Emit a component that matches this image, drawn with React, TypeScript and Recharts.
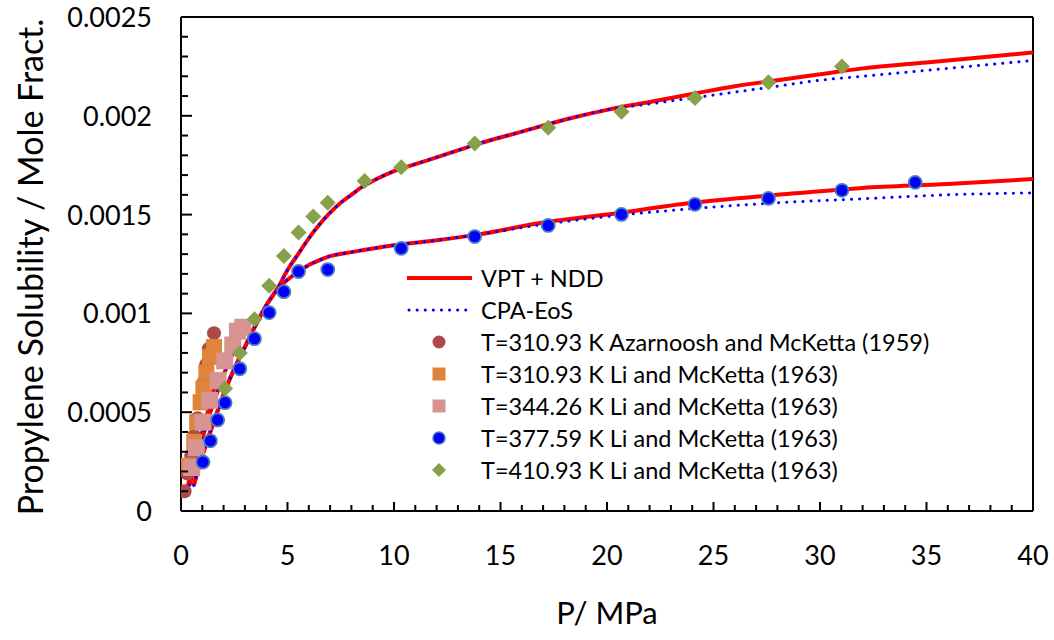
import React from 'react'
import { ComposedChart, Line, Scatter, XAxis, YAxis, Legend, ReferenceLine, Label } from 'recharts'

const FONT = 'Lato, "Open Sans", sans-serif'

// experimental data, P in MPa, solubility in mole fraction
const AZ311_P = [0.17, 0.3, 0.48, 0.62, 0.78, 0.92, 1.06, 1.18, 1.3, 1.55]
const AZ311_S = [0.0001, 0.00019, 0.00028, 0.00038, 0.00047, 0.00056, 0.00065, 0.00074, 0.00082, 0.0009]
const LI311_P = [0.33, 0.62, 0.76, 0.92, 1.05, 1.19, 1.36, 1.55]
const LI311_S = [0.00023, 0.00035, 0.00045, 0.00055, 0.00062, 0.0007, 0.00078, 0.00083]
const LI344_P = [0.5, 0.72, 1.03, 1.35, 1.74, 2.05, 2.43, 2.65, 2.9]
const LI344_S = [0.00022, 0.00032, 0.00045, 0.00056, 0.00066, 0.00076, 0.00084, 0.00091, 0.00093]
const LI378_P = [1.03, 1.38, 1.72, 2.07, 2.76, 3.45, 4.14, 4.83, 5.52, 6.89, 10.34, 13.79, 17.24, 20.68, 24.13, 27.58, 31.03, 34.47]
const LI378_S = [0.000248, 0.000355, 0.000461, 0.000548, 0.00072, 0.000872, 0.001004, 0.00111, 0.001212, 0.001222, 0.001329, 0.001389, 0.001445, 0.001501, 0.001552, 0.001582, 0.001623, 0.001663]
const LI411_P = [2.07, 2.76, 3.45, 4.14, 4.83, 5.52, 6.21, 6.89, 8.62, 10.34, 13.79, 17.24, 20.68, 24.13, 27.58, 31.03]
const LI411_S = [0.00062, 0.0008, 0.00097, 0.00114, 0.00129, 0.00141, 0.00149, 0.00156, 0.00167, 0.00174, 0.00186, 0.00194, 0.00202, 0.00209, 0.00217, 0.00225]

// model curves
const VPT411_P = [0.6, 1, 1.5, 2, 2.5, 3, 3.5, 4, 4.5, 5, 5.5, 6, 6.5, 7, 7.5, 8, 8.5, 9, 10, 11, 12, 13, 14, 16, 18, 20, 22, 24, 26, 28, 30, 32, 35, 38, 40]
const VPT411_S = [0.00013, 0.00028, 0.00044, 0.00059, 0.00072, 0.00083, 0.00094, 0.00104, 0.00112, 0.00122, 0.0013, 0.00138, 0.00145, 0.00151, 0.00156, 0.0016, 0.00164, 0.00167, 0.00172, 0.001755, 0.00179, 0.001825, 0.00186, 0.00192, 0.00198, 0.00203, 0.00207, 0.00211, 0.00215, 0.00218, 0.00221, 0.00224, 0.00227, 0.0023, 0.00232]
const CPA411_S = [0.00013, 0.00028, 0.00044, 0.00059, 0.00072, 0.00083, 0.00094, 0.00104, 0.00112, 0.00122, 0.0013, 0.00138, 0.00145, 0.00151, 0.00156, 0.0016, 0.00164, 0.00167, 0.00172, 0.001755, 0.00179, 0.001825, 0.00186, 0.00192, 0.00198, 0.00203, 0.00206, 0.00209, 0.00212, 0.00215, 0.00218, 0.0022, 0.00223, 0.00226, 0.00228]
const VPT378_P = [0.6, 1, 1.5, 2, 2.5, 3, 3.5, 4, 4.5, 5, 5.5, 6, 6.5, 7, 8, 10, 12, 14, 17, 20, 24, 28, 32, 36, 40]
const VPT378_S = [0.00013, 0.00028, 0.00044, 0.00059, 0.00072, 0.00083, 0.00094, 0.00104, 0.00112, 0.00117, 0.00121, 0.001245, 0.00127, 0.00129, 0.00131, 0.001345, 0.00137, 0.0014, 0.00146, 0.0015, 0.00156, 0.0016, 0.001635, 0.001655, 0.00168]
const CPA378_S = [0.00013, 0.00028, 0.00044, 0.00059, 0.00072, 0.00083, 0.00094, 0.00104, 0.00112, 0.00117, 0.00121, 0.001245, 0.00127, 0.00129, 0.00131, 0.001345, 0.00137, 0.0014, 0.00145, 0.00149, 0.00153, 0.00156, 0.00158, 0.0016, 0.00161]
const VPT344_P = [0.4, 0.8, 1.2, 1.6, 2.0, 2.4, 2.8, 3.0]
const VPT344_S = [0.00013, 0.00029, 0.00044, 0.00057, 0.00069, 0.00079, 0.00089, 0.00093]
const VPT311_P = [0.2, 0.5, 0.8, 1.1, 1.4, 1.55]
const VPT311_S = [0.00008, 0.0002, 0.00032, 0.00044, 0.00056, 0.00062]

const X_TICKS = Array.from({ length: 41 }, (_, i) => i)
const Y_TICKS = Array.from({ length: 26 }, (_, i) => Number((i * 0.0001).toFixed(4)))

const LEGEND_LABELS = [
  'VPT + NDD',
  'CPA-EoS',
  'T=310.93 K Azarnoosh and McKetta (1959)',
  'T=310.93 K Li and McKetta (1963)',
  'T=344.26 K Li and McKetta (1963)',
  'T=377.59 K Li and McKetta (1963)',
  'T=410.93 K Li and McKetta (1963)',
]

const zip = (p: number[], s: number[]) => p.map((v, i) => ({ p: v, s: s[i] }))

const RED = '#ff0000'
const BLUE = '#0000ff'
const BROWN = '#ad4a47'
const ORANGE = '#e0843b'
const PINK = '#d79493'
const GREEN = '#87a04a'
const BLUE_EDGE = '#4a7ebb'

const circle = (fill: string, r: number, stroke?: string) => (props: any) => (
  <circle cx={props.cx} cy={props.cy} r={r} fill={fill} stroke={stroke ?? 'none'} strokeWidth={stroke ? 1.8 : 0} />
)
const square = (fill: string, half: number) => (props: any) => (
  <rect x={props.cx - half} y={props.cy - half} width={half * 2} height={half * 2} fill={fill} />
)
const diamond = (fill: string, half: number) => (props: any) => (
  <polygon
    points={`${props.cx},${props.cy - half} ${props.cx + half},${props.cy} ${props.cx},${props.cy + half} ${props.cx - half},${props.cy}`}
    fill={fill}
  />
)

const XTick = (props: any) => {
  const { x, y, payload } = props
  const major = payload.value % 5 === 0
  return (
    <g>
      <line x1={x} x2={x} y1={y} y2={y - (major ? 9 : 6)} stroke="#000" strokeWidth={2} />
      {major && (
        <text x={x} y={y + 54} textAnchor="middle" fontFamily={FONT} fontSize={27} fill="#000">
          {payload.value}
        </text>
      )}
    </g>
  )
}

const YTick = (props: any) => {
  const { x, y, payload } = props
  const major = Math.round(payload.value * 10000) % 5 === 0
  return (
    <g>
      <line x1={x} x2={x + (major ? 11 : 7)} y1={y} y2={y} stroke="#000" strokeWidth={2} />
      {major && (
        <text x={x - 29} y={y + 10} textAnchor="end" fontFamily={FONT} fontSize={27} fill="#000">
          {String(payload.value)}
        </text>
      )}
    </g>
  )
}

function LegendBox() {
  const symbols = [
    <line x1={1} x2={66} y1={16} y2={16} stroke={RED} strokeWidth={4} />,
    <line x1={3} x2={66} y1={16} y2={16} stroke={BLUE} strokeWidth={3} strokeDasharray="0.1 8" strokeLinecap="round" />,
    <circle cx={33} cy={16} r={6.5} fill={BROWN} />,
    <rect x={26.5} y={9.5} width={13} height={13} fill={ORANGE} />,
    <rect x={26.5} y={9.5} width={13} height={13} fill={PINK} />,
    <circle cx={33} cy={16} r={6} fill={BLUE} stroke={BLUE_EDGE} strokeWidth={1.5} />,
    <polygon points="33,9 40,16 33,23 26,16" fill={GREEN} />,
  ]
  return (
    <div style={{ fontFamily: FONT, fontSize: 23.5, color: '#000' }}>
      {LEGEND_LABELS.map((label, i) => (
        <div key={label} style={{ display: 'flex', alignItems: 'center', height: 32, whiteSpace: 'nowrap' }}>
          <svg width={75} height={32}>{symbols[i]}</svg>
          <span>{label}</span>
        </div>
      ))}
    </div>
  )
}

export default function App() {
  return (
    <div style={{ position: 'absolute', left: 0, top: 0, background: '#fff' }}>
      <ComposedChart width={1054} height={640} margin={{ top: 17, right: 21, bottom: 0, left: 0 }}>
        <XAxis
          type="number"
          dataKey="p"
          domain={[0, 40]}
          ticks={X_TICKS}
          interval={0}
          tickSize={0}
          tickMargin={0}
          tick={<XTick />}
          height={129}
          axisLine={{ stroke: '#000', strokeWidth: 2 }}
          allowDataOverflow
        >
          <Label
            content={(p: any) => (
              <text x={p.viewBox.x + p.viewBox.width / 2} y={p.viewBox.y + 113} textAnchor="middle" fontFamily={FONT} fontSize={31} fill="#000">
                P/ MPa
              </text>
            )}
          />
        </XAxis>
        <YAxis
          type="number"
          dataKey="s"
          domain={[0, 0.0025]}
          ticks={Y_TICKS}
          interval={0}
          tickSize={0}
          tickMargin={0}
          tick={<YTick />}
          width={181}
          axisLine={{ stroke: '#000', strokeWidth: 2 }}
          allowDataOverflow
        >
          <Label
            content={(p: any) => {
              const cx = 43
              const cy = p.viewBox.y + p.viewBox.height / 2 + 3
              return (
                <text x={cx} y={cy} transform={`rotate(-90, ${cx}, ${cy})`} textAnchor="middle" fontFamily={FONT} fontSize={34} fill="#000">
                  Propylene Solubility / Mole Fract.
                </text>
              )
            }}
          />
        </YAxis>
        <ReferenceLine y={0.0025} stroke="#000" strokeWidth={2} />
        <ReferenceLine x={40} stroke="#000" strokeWidth={2} />

        <Line data={zip(VPT311_P, VPT311_S)} dataKey="s" type="monotone" stroke={RED} strokeWidth={4} dot={false} activeDot={false} isAnimationActive={false} />
        <Line data={zip(VPT311_P, VPT311_S)} dataKey="s" type="monotone" stroke={BLUE} strokeWidth={3} strokeDasharray="0.1 8" strokeLinecap="round" dot={false} activeDot={false} isAnimationActive={false} />
        <Line data={zip(VPT344_P, VPT344_S)} dataKey="s" type="monotone" stroke={RED} strokeWidth={4} dot={false} activeDot={false} isAnimationActive={false} />
        <Line data={zip(VPT344_P, VPT344_S)} dataKey="s" type="monotone" stroke={BLUE} strokeWidth={3} strokeDasharray="0.1 8" strokeLinecap="round" dot={false} activeDot={false} isAnimationActive={false} />
        <Line data={zip(VPT378_P, VPT378_S)} dataKey="s" type="monotone" stroke={RED} strokeWidth={4} dot={false} activeDot={false} isAnimationActive={false} />
        <Line data={zip(VPT378_P, CPA378_S)} dataKey="s" type="monotone" stroke={BLUE} strokeWidth={3} strokeDasharray="0.1 8" strokeLinecap="round" dot={false} activeDot={false} isAnimationActive={false} />
        <Line data={zip(VPT411_P, VPT411_S)} dataKey="s" type="monotone" stroke={RED} strokeWidth={4} dot={false} activeDot={false} isAnimationActive={false} />
        <Line data={zip(VPT411_P, CPA411_S)} dataKey="s" type="monotone" stroke={BLUE} strokeWidth={3} strokeDasharray="0.1 8" strokeLinecap="round" dot={false} activeDot={false} isAnimationActive={false} />

        <Scatter data={zip(AZ311_P, AZ311_S)} dataKey="s" shape={circle(BROWN, 7)} isAnimationActive={false} />
        <Scatter data={zip(LI311_P, LI311_S)} dataKey="s" shape={square(ORANGE, 8)} isAnimationActive={false} />
        <Scatter data={zip(LI344_P, LI344_S)} dataKey="s" shape={square(PINK, 8.5)} isAnimationActive={false} />
        <Scatter data={zip(LI378_P, LI378_S)} dataKey="s" shape={circle(BLUE, 6.5, BLUE_EDGE)} isAnimationActive={false} />
        <Scatter data={zip(LI411_P, LI411_S)} dataKey="s" shape={diamond(GREEN, 8)} isAnimationActive={false} />

        <Legend
          content={() => <LegendBox />}
          layout="vertical"
          align="center"
          verticalAlign="middle"
          wrapperStyle={{ position: 'absolute', left: 406, top: 262, width: 620, height: 230 }}
        />
      </ComposedChart>
    </div>
  )
}
